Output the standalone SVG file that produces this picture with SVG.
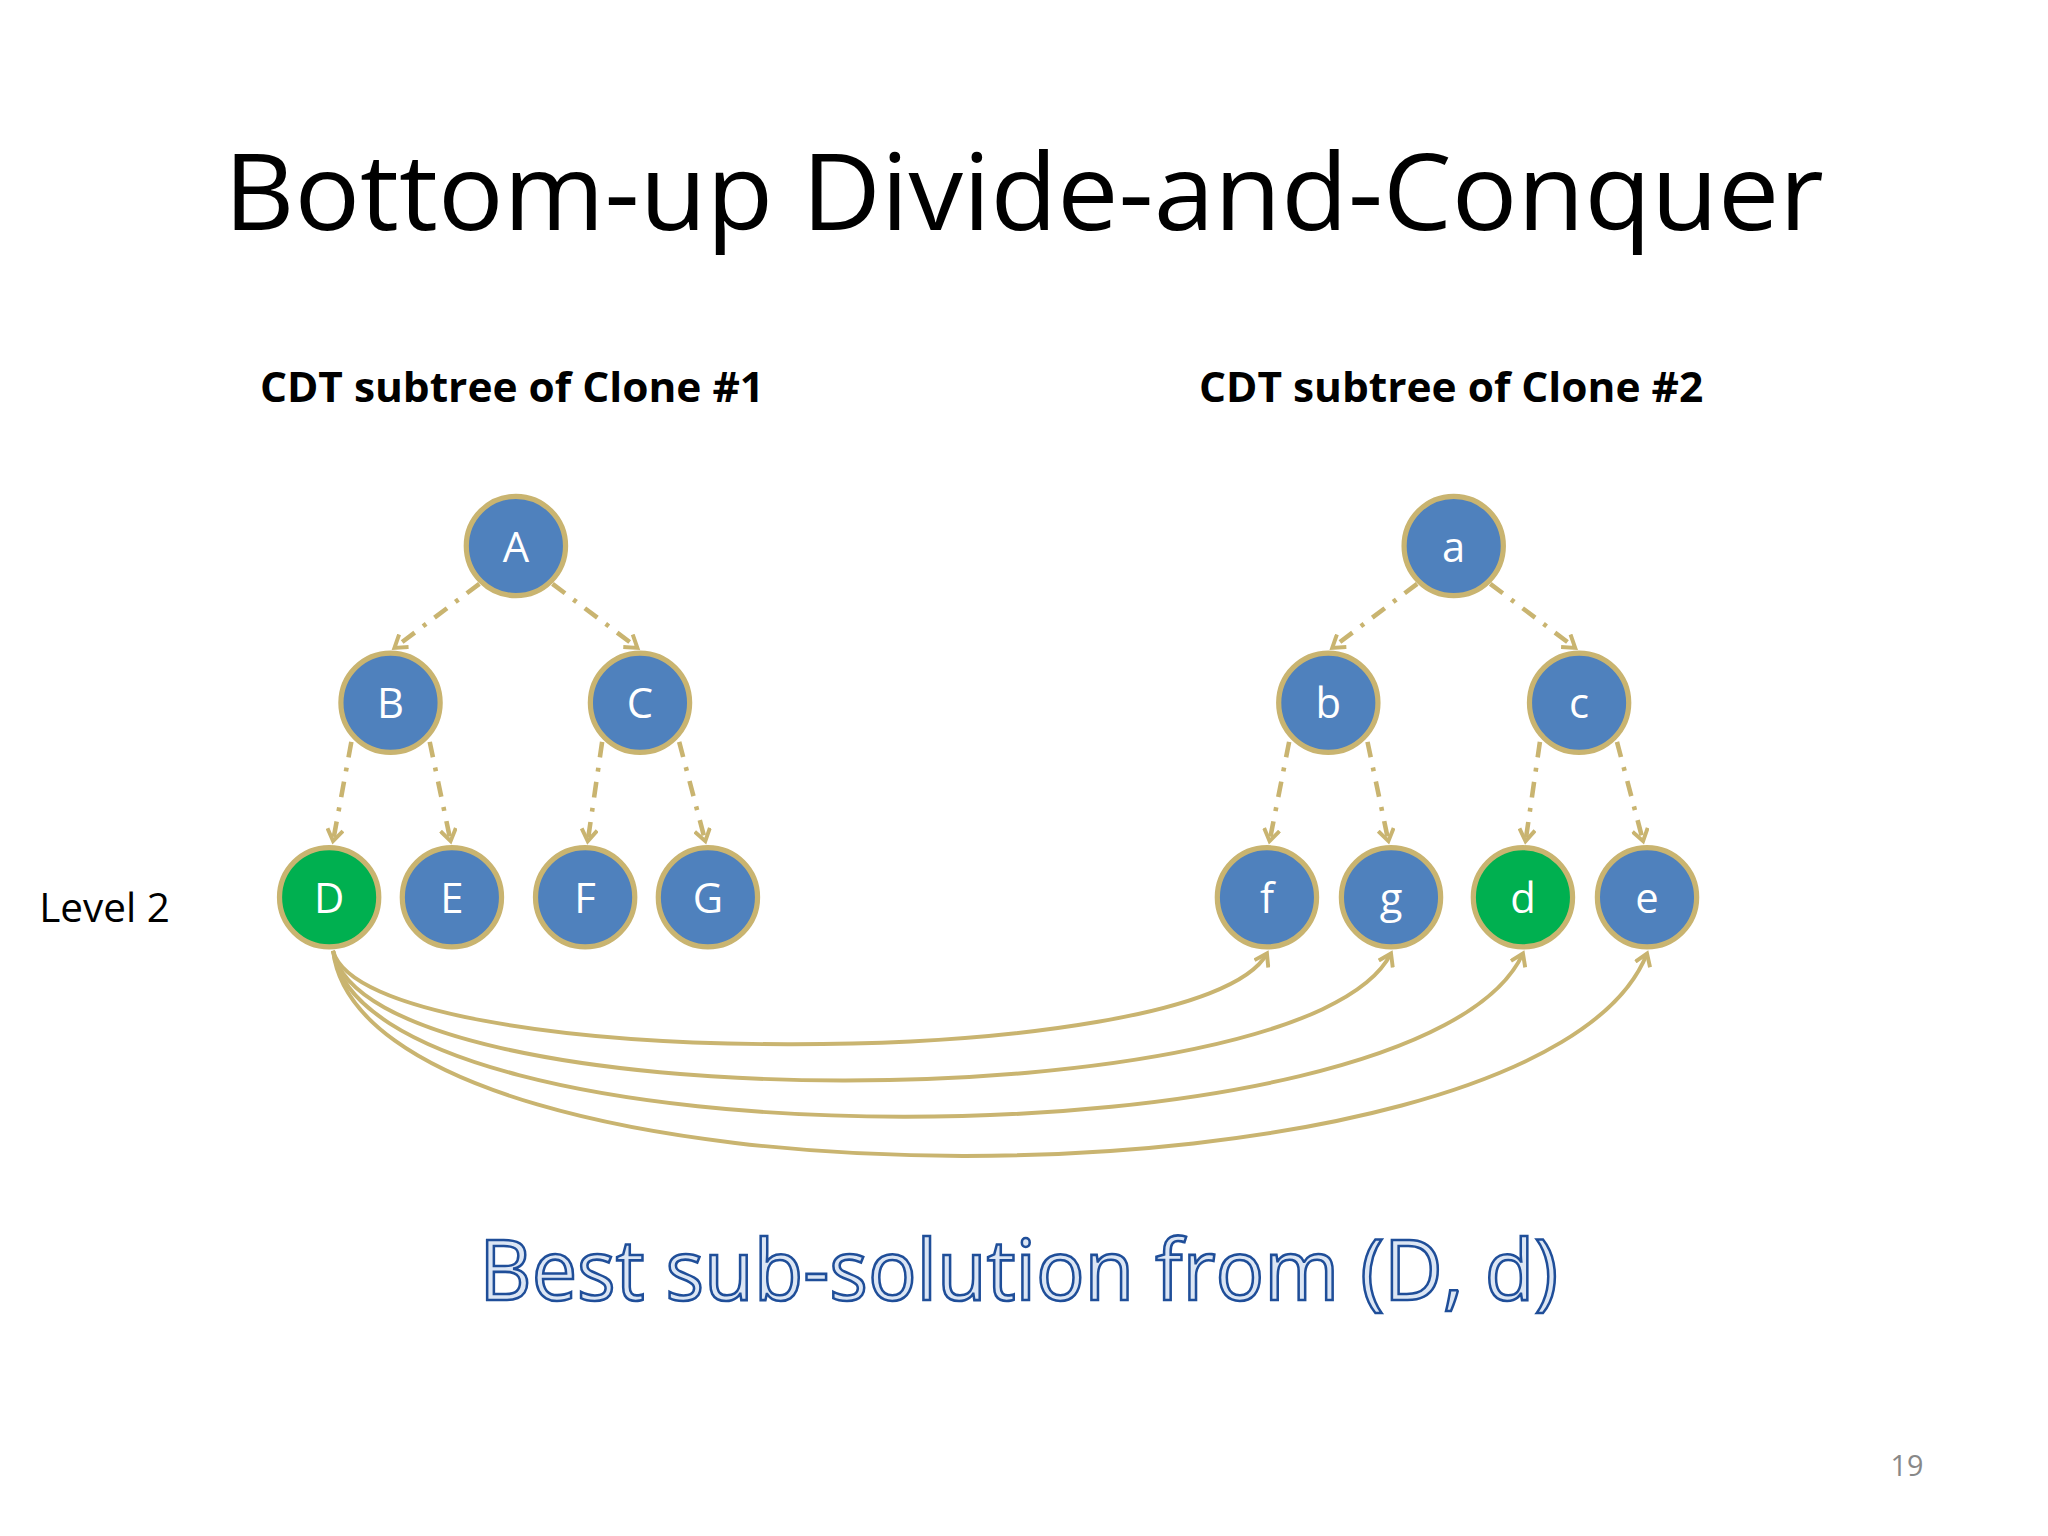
<svg xmlns="http://www.w3.org/2000/svg" width="2048" height="1536" viewBox="0 0 2048 1536">
<style>
.n circle{fill:#4F81BD;stroke:#C9B470;stroke-width:4}
.n.g circle{fill:#00B050}
.n text{font-family:"Open Sans","Liberation Sans",sans-serif;font-size:32px;fill:#fff;text-anchor:middle}
.d{fill:none;stroke:#C9B470;stroke-width:3.5;stroke-dasharray:12 8 3 8}
.c{fill:none;stroke:#C9B470;stroke-width:3}
.h{font-family:"Open Sans","Liberation Sans",sans-serif;font-weight:bold;font-size:32px;fill:#000}
</style>
<defs>
<marker id="ar" markerWidth="14" markerHeight="14" refX="10" refY="7" orient="auto" markerUnits="userSpaceOnUse">
<path d="M1,1 L10,7 L1,13" fill="none" stroke="#C9B470" stroke-width="3" stroke-dasharray="none"/>
</marker>
</defs>
<rect width="2048" height="1536" fill="#fff"/>
<g transform="scale(1.30612)">
<text x="784" y="176" text-anchor="middle" font-family="Open Sans, Liberation Sans, sans-serif" font-size="82" textLength="1225" lengthAdjust="spacingAndGlyphs">Bottom-up Divide-and-Conquer</text>
<text class="h" x="199" y="308" textLength="386" lengthAdjust="spacingAndGlyphs">CDT subtree of Clone #1</text>
<text class="h" x="918" y="308" textLength="386" lengthAdjust="spacingAndGlyphs">CDT subtree of Clone #2</text>
<text x="30" y="706" font-family="Open Sans, Liberation Sans, sans-serif" font-size="31">Level 2</text>
<g id="connectors">
<path class="d" marker-end="url(#ar)" d="M367,447 L302,496"/>
<path class="d" marker-end="url(#ar)" d="M423,447 L488,496"/>
<path class="d" marker-end="url(#ar)" d="M269,568 L255,644"/>
<path class="d" marker-end="url(#ar)" d="M329,568 L345,644"/>
<path class="d" marker-end="url(#ar)" d="M461,568 L450,644"/>
<path class="d" marker-end="url(#ar)" d="M520,568 L540,644"/>
<path class="d" marker-end="url(#ar)" d="M1085,447 L1020,496"/>
<path class="d" marker-end="url(#ar)" d="M1141,447 L1206,496"/>
<path class="d" marker-end="url(#ar)" d="M987,568 L972,644"/>
<path class="d" marker-end="url(#ar)" d="M1047,568 L1063,644"/>
<path class="d" marker-end="url(#ar)" d="M1179,568 L1168,644"/>
<path class="d" marker-end="url(#ar)" d="M1238,568 L1258,644"/>
<path class="c" marker-end="url(#ar)" d="M255,728 C280,823 920,823 970,730"/>
<path class="c" marker-end="url(#ar)" d="M255,728 C280,860 1000,860 1065,730"/>
<path class="c" marker-end="url(#ar)" d="M255,728 C280,897 1090,897 1166,730"/>
<path class="c" marker-end="url(#ar)" d="M255,728 C280,937 1180,937 1261,730"/>
</g>
<g id="A" class="n"><circle cx="395" cy="418" r="38"/><text x="395" y="430">A</text></g>
<g id="B" class="n"><circle cx="299" cy="538" r="38"/><text x="299" y="550">B</text></g>
<g id="C" class="n"><circle cx="490" cy="538" r="38"/><text x="490" y="550">C</text></g>
<g id="D" class="n g"><circle cx="252" cy="687" r="38"/><text x="252" y="699">D</text></g>
<g id="E" class="n"><circle cx="346" cy="687" r="38"/><text x="346" y="699">E</text></g>
<g id="F" class="n"><circle cx="448" cy="687" r="38"/><text x="448" y="699">F</text></g>
<g id="G" class="n"><circle cx="542" cy="687" r="38"/><text x="542" y="699">G</text></g>
<g id="na" class="n"><circle cx="1113" cy="418" r="38"/><text x="1113" y="430">a</text></g>
<g id="nb" class="n"><circle cx="1017" cy="538" r="38"/><text x="1017" y="550">b</text></g>
<g id="nc" class="n"><circle cx="1209" cy="538" r="38"/><text x="1209" y="550">c</text></g>
<g id="nf" class="n"><circle cx="970" cy="687" r="38"/><text x="970" y="699">f</text></g>
<g id="ng" class="n"><circle cx="1065" cy="687" r="38"/><text x="1065" y="699">g</text></g>
<g id="nd" class="n g"><circle cx="1166" cy="687" r="38"/><text x="1166" y="699">d</text></g>
<g id="ne" class="n"><circle cx="1261" cy="687" r="38"/><text x="1261" y="699">e</text></g>
<text x="780" y="995" text-anchor="middle" font-family="Open Sans, Liberation Sans, sans-serif" font-size="64" fill="#DCE6F4" stroke="#1F4E99" stroke-width="2" textLength="826" lengthAdjust="spacingAndGlyphs">Best sub-solution from (D, d)</text>
<text x="1460" y="1130" text-anchor="middle" font-family="Open Sans, Liberation Sans, sans-serif" font-size="22" fill="#888">19</text>
</g>
</svg>
